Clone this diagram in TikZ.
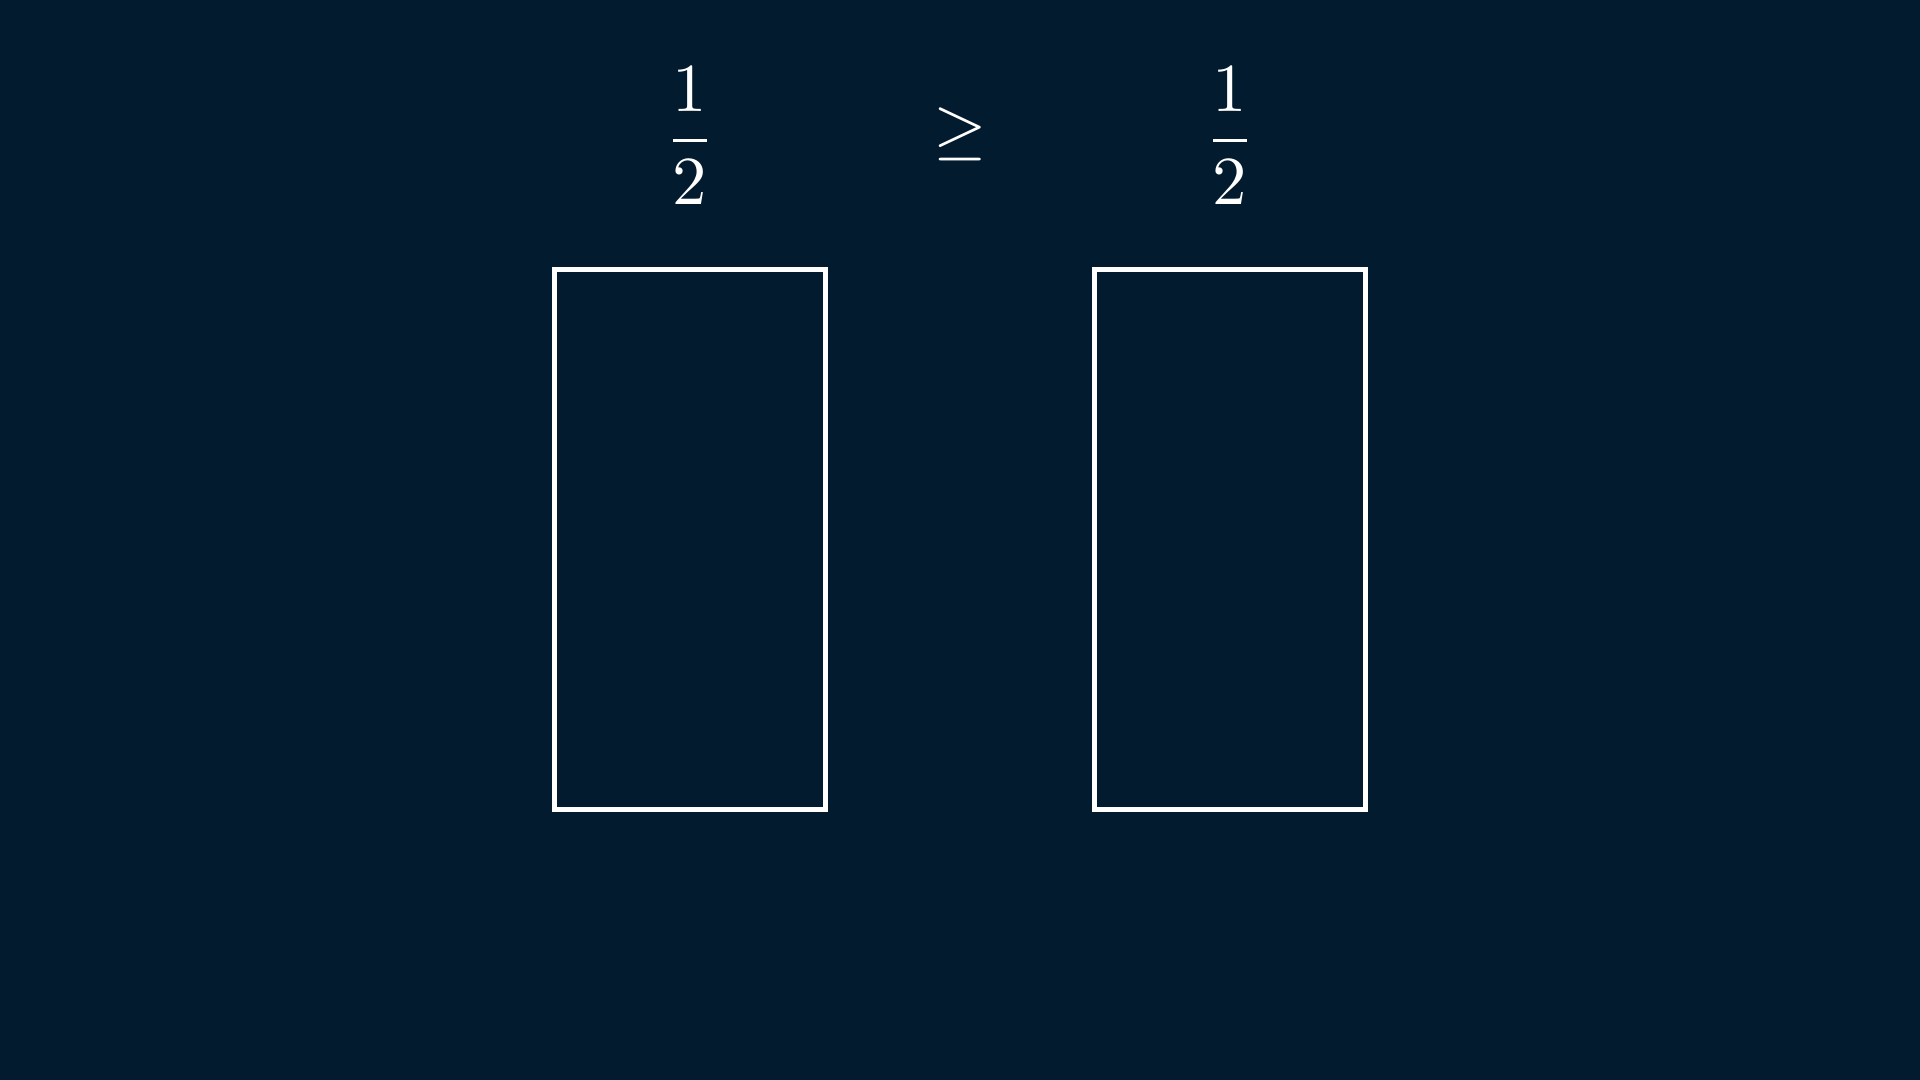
\documentclass[tikz,border=0pt]{standalone}
\usepackage{graphicx}
\definecolor{bgcol}{RGB}{2,27,46}
\tikzset{
  box/.style={draw=white, line width=0.05cm},
  mathlabel/.style={text=white, inner sep=0pt, outer sep=0pt}
}
\begin{document}
\begin{tikzpicture}[x=0.01cm,y=0.01cm]
  \fill[bgcol] (0,0) rectangle (1920,1080);
  \useasboundingbox (0,0) rectangle (1920,1080);
  % rectangles
  \draw[box] (554.8,270) rectangle (825,810);
  \draw[box] (1094.8,270) rectangle (1365,810);
  % labels
  \node[mathlabel] (fracL) at (690,944.2) {\scalebox{1.955}{$\displaystyle\frac{1}{2}$}};
  \node[mathlabel] (geq) at (960,945.5) {\scalebox{1.955}{$\geq$}};
  \node[mathlabel] (fracR) at (1230,944.2) {\scalebox{1.955}{$\displaystyle\frac{1}{2}$}};
\end{tikzpicture}
\end{document}
